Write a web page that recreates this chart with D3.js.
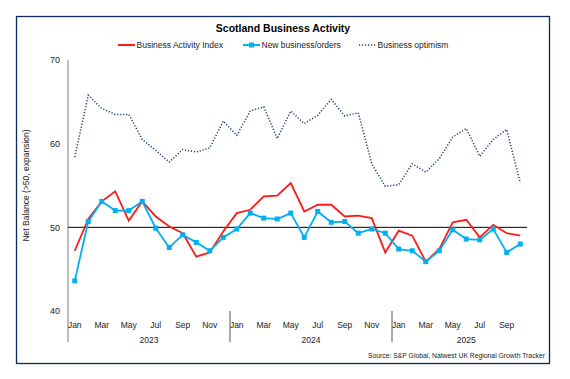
<!DOCTYPE html>
<html>
<head>
<meta charset="utf-8">
<script src="https://cdn.jsdelivr.net/npm/d3@7"></script>
<style>
  body { margin: 0; background: #fff; }
  svg { font-family: "Liberation Sans", Arial, sans-serif; }
</style>
</head>
<body>
<div id="chart"></div>
<script>
// months Jan 2023 .. Oct 2025
const monthNames = ["Jan","Feb","Mar","Apr","May","Jun","Jul","Aug","Sep","Oct","Nov","Dec"];
const years = [2023, 2024, 2025];
const months = [];
years.forEach(y => monthNames.forEach((m, i) => {
    if (y < 2025 || i < 10) months.push({year: y, month: m, key: y + "-" + m});
}));

const activityIndex = [47.2, 51.0, 53.1, 54.3, 50.8, 53.1, 51.3, 50.1, 49.3, 46.5, 47.0, 49.5,
                       51.7, 52.1, 53.7, 53.8, 55.3, 51.9, 52.7, 52.7, 51.3, 51.4, 51.1, 47.0,
                       49.6, 49.0, 45.9, 47.4, 50.6, 50.9, 48.8, 50.3, 49.3, 49.0];
const newOrders = [43.6, 50.7, 53.1, 52.0, 52.0, 53.1, 49.9, 47.6, 49.1, 48.2, 47.2, 48.8,
                   49.8, 51.7, 51.1, 51.0, 51.7, 48.8, 51.9, 50.6, 50.7, 49.3, 49.8, 49.3,
                   47.4, 47.2, 45.9, 47.2, 49.7, 48.6, 48.5, 49.8, 47.0, 48.0];
const optimism = [58.4, 65.8, 64.2, 63.5, 63.5, 60.5, 59.2, 57.8, 59.3, 59.0, 59.5, 62.7,
                  61.0, 63.9, 64.4, 60.6, 63.9, 62.4, 63.4, 65.3, 63.3, 63.7, 57.6, 54.9,
                  55.1, 57.6, 56.6, 58.2, 60.8, 61.8, 58.5, 60.5, 61.7, 55.3];
const yTicks = [40, 50, 60, 70];

const width = 570, height = 379;
const margin = {top: 60, right: 43, bottom: 68, left: 68};
const innerW = width - margin.left - margin.right;
const innerH = height - margin.top - margin.bottom;

const svg = d3.select("#chart").append("svg")
    .attr("width", width)
    .attr("height", height);

// outer frame
svg.append("rect")
    .attr("x", 16.5).attr("y", 16.5)
    .attr("width", 533).attr("height", 347)
    .attr("fill", "none")
    .attr("stroke", "#0b2a5b")
    .attr("stroke-width", 1.3);

// title
svg.append("text")
    .attr("x", 283).attr("y", 32)
    .attr("text-anchor", "middle")
    .attr("font-size", 10.5)
    .attr("font-weight", "bold")
    .text("Scotland Business Activity");

const g = svg.append("g")
    .attr("transform", `translate(${margin.left}, ${margin.top})`);

const x = d3.scaleBand()
    .domain(months.map(d => d.key))
    .range([0, innerW]);
const y = d3.scaleLinear()
    .domain([40, 70])
    .range([innerH, 0]);
const cx = i => x(months[i].key) + x.bandwidth() / 2;

// y axis
const yAxis = d3.axisLeft(y).tickValues(yTicks).tickSize(0).tickPadding(8);
const yAxisGroup = g.append("g").call(yAxis);
yAxisGroup.select(".domain").remove();
yAxisGroup.selectAll("text").attr("font-size", 9).attr("fill", "#222")
    .attr("font-family", "Liberation Sans, Arial, sans-serif");

g.append("line")
    .attr("x1", 0).attr("x2", 0)
    .attr("y1", 0).attr("y2", innerH + 31)
    .attr("stroke", "#a6a6a6").attr("stroke-width", 1.5);

// 50 reference line
g.append("line")
    .attr("x1", 0).attr("x2", innerW)
    .attr("y1", y(50)).attr("y2", y(50))
    .attr("stroke", "#000").attr("stroke-width", 1);

// axis title
svg.append("text")
    .attr("transform", `translate(29, ${margin.top + innerH / 2}) rotate(-90)`)
    .attr("text-anchor", "middle")
    .attr("font-size", 8.5)
    .attr("fill", "#222")
    .text("Net Balance (>50, expansion)");

// x axis month labels (every other month)
g.selectAll(".month-label")
    .data(months.filter((d, i) => i % 2 === 0))
    .enter().append("text")
    .attr("class", "month-label")
    .attr("x", d => x(d.key) + x.bandwidth() / 2)
    .attr("y", innerH + 17)
    .attr("text-anchor", "middle")
    .attr("font-size", 8.5)
    .attr("fill", "#222")
    .text(d => d.month);

// year separators + labels
years.forEach(yr => {
    const yrMonths = months.filter(d => d.year === yr);
    const x0 = x(yrMonths[0].key);
    const x1 = x(yrMonths[yrMonths.length - 1].key) + x.bandwidth();
    if (yr !== years[0]) {
        g.append("line")
            .attr("x1", x0).attr("x2", x0)
            .attr("y1", innerH).attr("y2", innerH + 31)
            .attr("stroke", "#555").attr("stroke-width", 1);
    }
    const mid = yr === 2025 ? x0 + 5.5 * x.bandwidth() : (x0 + x1) / 2;
    g.append("text")
        .attr("x", mid)
        .attr("y", innerH + 32)
        .attr("text-anchor", "middle")
        .attr("font-size", 8.5)
        .attr("fill", "#222")
        .text(yr);
});

// lines
const line = arr => d3.line()
    .x((d, i) => cx(i))
    .y(d => y(d))(arr);

g.append("path")
    .attr("d", line(optimism))
    .attr("fill", "none")
    .attr("stroke", "#1f3d7a")
    .attr("stroke-width", 1.5)
    .attr("stroke-dasharray", "1.2,1.8");

g.append("path")
    .attr("d", line(activityIndex))
    .attr("fill", "none")
    .attr("stroke", "#ff1a1a")
    .attr("stroke-width", 1.8);

g.append("path")
    .attr("d", line(newOrders))
    .attr("fill", "none")
    .attr("stroke", "#00b0f0")
    .attr("stroke-width", 1.8);

g.selectAll(".marker")
    .data(newOrders)
    .enter().append("rect")
    .attr("class", "marker")
    .attr("x", (d, i) => cx(i) - 2.5)
    .attr("y", d => y(d) - 2.5)
    .attr("width", 5).attr("height", 5)
    .attr("fill", "#00b0f0");

// legend
const legend = svg.append("g").attr("transform", "translate(0, 48)");
const legendItems = [
    {label: "Business Activity Index", x: 118, color: "#ff1a1a", dash: null, marker: false},
    {label: "New business/orders", x: 243, color: "#00b0f0", dash: null, marker: true},
    {label: "Business optimism", x: 359, color: "#1f3d7a", dash: "1.2,1.8", marker: false}
];
legendItems.forEach(it => {
    legend.append("line")
        .attr("x1", it.x).attr("x2", it.x + 17)
        .attr("y1", -3).attr("y2", -3)
        .attr("stroke", it.color)
        .attr("stroke-width", it.dash ? 1.5 : 2)
        .attr("stroke-dasharray", it.dash);
    if (it.marker) {
        legend.append("rect")
            .attr("x", it.x + 6).attr("y", -5.5)
            .attr("width", 5).attr("height", 5)
            .attr("fill", it.color);
    }
    legend.append("text")
        .attr("x", it.x + 18.5)
        .attr("y", 0)
        .attr("font-size", 8.5)
        .attr("fill", "#222")
        .text(it.label);
});

// source
svg.append("text")
    .attr("x", 545).attr("y", 358)
    .attr("text-anchor", "end")
    .attr("font-size", 6.8)
    .attr("fill", "#222")
    .text("Source: S&P Global, Natwest UK Regional Growth Tracker");
</script>
</body>
</html>
